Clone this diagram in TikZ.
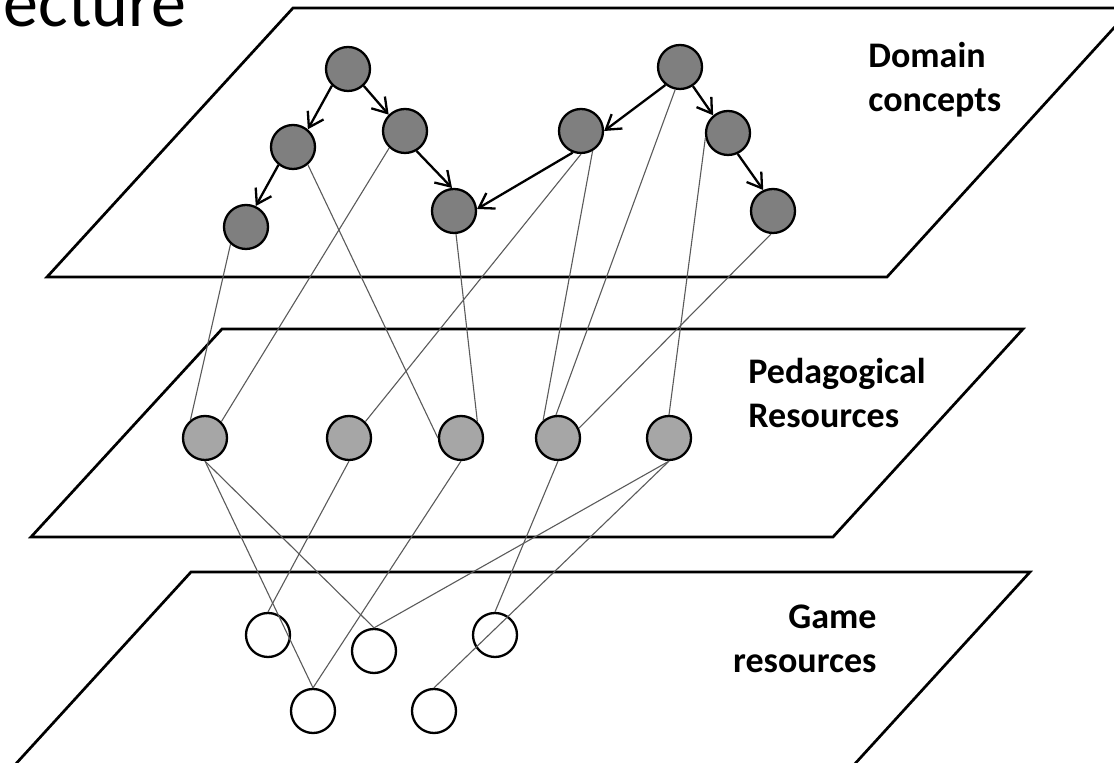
\documentclass[tikz,border=0pt]{standalone}
\usepackage{fontspec}
\setmainfont{Carlito}
\usetikzlibrary{arrows.meta}

\definecolor{conceptgray}{RGB}{127,127,127}
\definecolor{resourcegray}{RGB}{166,166,166}
\definecolor{linkgray}{RGB}{90,90,90}

\begin{document}
\begin{tikzpicture}[x=0.5pt,y=-0.5pt,
  plane/.style={line width=1.35pt},
  concept/.style={circle,draw,line width=1.15pt,fill=conceptgray,minimum size=22pt,inner sep=0pt},
  resource/.style={circle,draw,line width=1.15pt,fill=resourcegray,minimum size=22pt,inner sep=0pt},
  gameres/.style={circle,draw,line width=1.15pt,minimum size=22pt,inner sep=0pt},
  prereq/.style={-{Straight Barb[length=7pt,width=9pt]},line width=1.15pt},
  link/.style={linkgray,line width=0.55pt},
  layer/.style={font=\bfseries\fontsize{18}{22}\selectfont,inner sep=0pt}]
  \useasboundingbox (0,0) rectangle (1114,763);
  \clip (0,0) rectangle (1114,763);

  \node[font=\fontsize{35}{42}\selectfont,anchor=base east,inner sep=0pt] (title) at (187,27) {ecture};

  \draw[plane] (47,277) -- (293,8) -- (1132,8) -- (887,277) -- cycle;
  \draw[plane] (31,537) -- (222,329) -- (1023,329) -- (833,537) -- cycle;
  \draw[plane] (-8,790) -- (191,572) -- (1030,572) -- (831,790) -- cycle;

  \node[layer,anchor=north west,align=left] (dlabel) at (868,42) {Domain\\concepts};
  \node[layer,anchor=north west,align=left] (plabel) at (748,358) {Pedagogical\\Resources};
  \node[layer,anchor=north east,align=right] (glabel) at (877,604) {Game\\resources};

  \node[concept] (c1) at (348,69) {};
  \node[concept] (c2) at (293,147) {};
  \node[concept] (c3) at (246,227) {};
  \node[concept] (c4) at (405,131) {};
  \node[concept] (c5) at (454,211) {};
  \node[concept] (c6) at (581,131) {};
  \node[concept] (c7) at (680,67) {};
  \node[concept] (c8) at (728,133) {};
  \node[concept] (c9) at (773,211) {};

  \node[resource] (r1) at (205,438) {};
  \node[resource] (r2) at (349,438) {};
  \node[resource] (r3) at (461,438) {};
  \node[resource] (r4) at (558,438) {};
  \node[resource] (r5) at (669,438) {};

  \node[gameres] (g1) at (268,635) {};
  \node[gameres] (g2) at (374,651) {};
  \node[gameres] (g3) at (313,711) {};
  \node[gameres] (g4) at (434,711) {};
  \node[gameres] (g5) at (495,635) {};

  \draw[prereq] (c1.226) -- (c2.50);
  \draw[prereq] (c1.313) -- (c4.135);
  \draw[prereq] (c2.231) -- (c3.65);
  \draw[prereq] (c4.300) -- (c5.95);
  \draw[prereq] (c6.249) -- (c5.5);
  \draw[prereq] (c7.231) -- (c6.east);
  \draw[prereq] (c7.304) -- (c8.130);
  \draw[prereq] (c8.295) -- (c9.115);

  \draw[link] (c3.228) -- (r1.129);
  \draw[link] (c4.227) -- (r1.45);
  \draw[link] (c2.310) -- (r3.180);
  \draw[link] (c5.275) -- (r3.45);
  \draw[link] (c6.270) -- (r2.45);
  \draw[link] (c6.300) -- (r4.130);
  \draw[link] (c7.258) -- (r4.95);
  \draw[link] (c8.192) -- (r5.north);
  \draw[link] (c9.265) -- (r4.25);

  \draw[link] (r1.south) -- (g3.north);
  \draw[link] (r1.south) -- (g2.north);
  \draw[link] (r2.south) -- (g1.north);
  \draw[link] (r3.south) -- (g3.north);
  \draw[link] (r4.south) -- (g5.north);
  \draw[link] (r5.south) -- (g2.north);
  \draw[link] (r5.south) -- (g4.north);
\end{tikzpicture}
\end{document}
